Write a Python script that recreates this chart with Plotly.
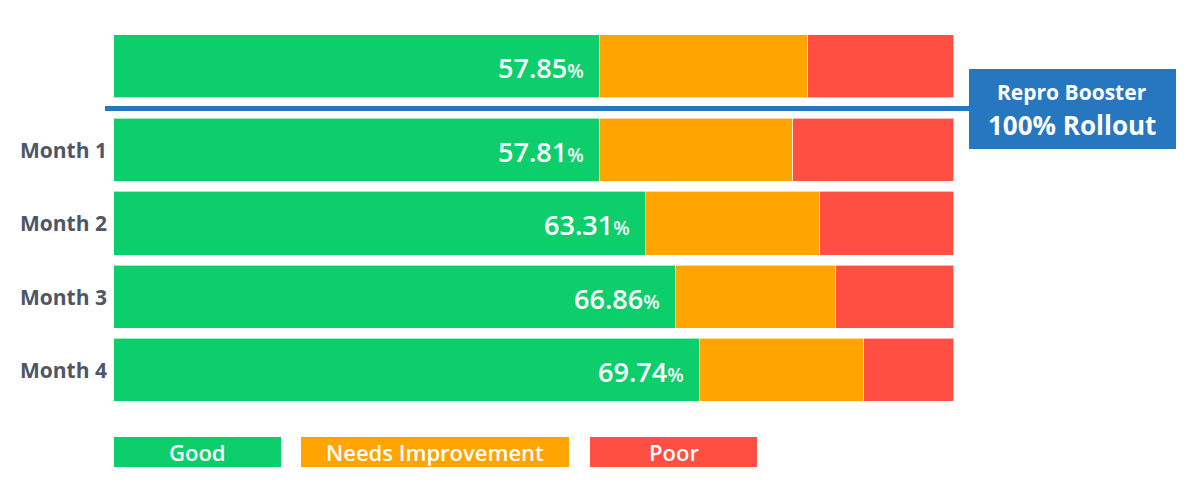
import plotly.graph_objects as go

# ---- data ----
series_names = ["Good", "Needs Improvement", "Poor"]
baseline_label = ["Baseline"]
baseline_good = [57.85]
baseline_ni = [24.77]
baseline_poor = [17.38]

months = ["Month 1", "Month 2", "Month 3", "Month 4"]
good = [57.81, 63.31, 66.86, 69.74]
needs_improvement = [23.02, 20.74, 19.09, 19.55]
poor = [19.17, 15.95, 14.05, 10.71]

callout_lines = ["Repro Booster", "100% Rollout"]

# ---- style ----
colors = ["#0ccf6b", "#ffa400", "#ff4e42"]
blue = "#2677bf"
W, H = 1200, 500
FONT = "Open Sans"

def py(y):
    return 1 - y / H

def px(x):
    return x / W

fig = go.Figure()

def add_stack(cats, g, n, p, yaxis):
    for name, vals, col in zip(series_names, [g, n, p], colors):
        fig.add_trace(go.Bar(
            y=cats, x=vals, name=name, orientation="h",
            marker=dict(color=col, line=dict(color="rgba(255,255,255,0.6)", width=1)),
            width=0.86, yaxis=yaxis, showlegend=False, hoverinfo="skip"))
    for c, v in zip(cats, g):
        fig.add_annotation(
            x=v, y=c, xref="x", yref=yaxis, xanchor="right", yanchor="middle",
            xshift=-14, yshift=-1, showarrow=False,
            text=f"{v:.2f}<span style='font-size:19px'>%</span>",
            font=dict(family=FONT, size=27, color="white", weight=600))

add_stack(baseline_label, baseline_good, baseline_ni, baseline_poor, "y2")
add_stack(months, good, needs_improvement, poor, "y")

fig.update_layout(
    width=W, height=H, barmode="stack", bargap=0,
    paper_bgcolor="white", plot_bgcolor="white",
    margin=dict(l=0, r=0, t=0, b=0),
    xaxis=dict(range=[0, 100], domain=[px(114), px(954)], visible=False, fixedrange=True),
    yaxis=dict(domain=[py(407.2), py(113.8)], autorange="reversed",
               showgrid=False, zeroline=False, showline=False, ticks="",
               ticklabelstandoff=6,
               tickfont=dict(family=FONT, size=21, color="#4f5566", weight=700)),
    yaxis2=dict(domain=[py(103.5), py(30.2)], range=[-0.5, 0.5], showticklabels=False,
                showgrid=False, zeroline=False, showline=False),
)

# divider line and callout
fig.add_shape(type="line", xref="paper", yref="paper",
              x0=px(105), x1=px(970), y0=py(108.5), y1=py(108.5),
              line=dict(color=blue, width=5))
fig.add_shape(type="rect", xref="paper", yref="paper",
              x0=px(969), x1=px(1176), y0=py(149), y1=py(69),
              fillcolor=blue, line=dict(width=0))
fig.add_annotation(xref="paper", yref="paper", x=px(1072), y=py(92),
                   xanchor="center", yanchor="middle",
                   text=callout_lines[0], showarrow=False,
                   font=dict(family=FONT, size=21, color="white", weight=700))
fig.add_annotation(xref="paper", yref="paper", x=px(1072), y=py(125),
                   xanchor="center", yanchor="middle",
                   text=callout_lines[1], showarrow=False,
                   font=dict(family=FONT, size=26, color="white", weight=700))

# custom legend
legend_boxes = [(114, 281), (301, 569), (590, 757)]
for name, col, (x0, x1) in zip(series_names, colors, legend_boxes):
    fig.add_shape(type="rect", xref="paper", yref="paper",
                  x0=px(x0), x1=px(x1), y0=py(467), y1=py(437),
                  fillcolor=col, line=dict(width=0))
    fig.add_annotation(xref="paper", yref="paper", x=px((x0 + x1) / 2), y=py(452),
                       xanchor="center", yanchor="middle",
                       text=name, showarrow=False,
                       font=dict(family=FONT, size=22, color="white", weight=600))

fig.write_html("out.html")
